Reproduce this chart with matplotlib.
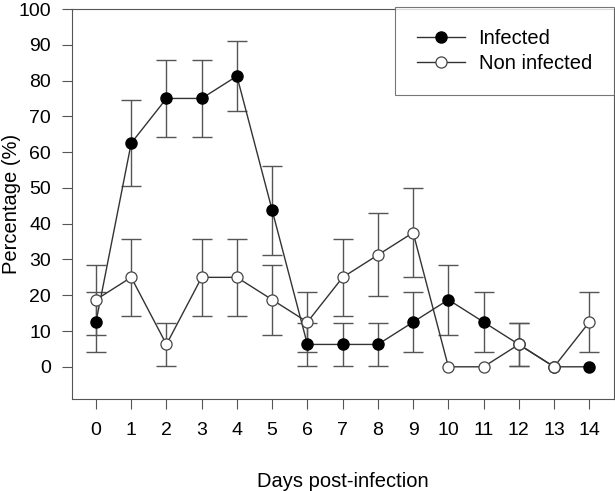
import numpy as np
import matplotlib.pyplot as plt

plt.rcParams['font.family'] = ['Liberation Sans', 'DejaVu Sans']

days = list(range(15))
infected = [12.5, 62.5, 75, 75, 81.25, 43.75, 6.25, 6.25, 6.25, 12.5, 18.75, 12.5, 6.25, 0, 0]
infected_err = [8.3, 12.1, 10.8, 10.8, 9.8, 12.4, 6.1, 6.1, 6.1, 8.3, 9.8, 8.3, 6.1, 0, 0]
non_infected = [18.75, 25, 6.25, 25, 25, 18.75, 12.5, 25, 31.25, 37.5, 0, 0, 6.25, 0, 12.5]
non_infected_err = [9.8, 10.8, 6.1, 10.8, 10.8, 9.8, 8.3, 10.8, 11.6, 12.5, 0, 0, 6.1, 0, 8.3]

fig = plt.figure(figsize=(6.15, 4.91), dpi=100)
ax = fig.add_axes([72 / 615, 1 - 399 / 491, 542 / 615, 390 / 491])

edge = '#555555'
line_col = '#333333'

# error bars only where there is an error (zero-width bars show no caps in the original)
for y, e in [(infected, infected_err), (non_infected, non_infected_err)]:
    d = np.array(days)
    y = np.array(y)
    e = np.array(e)
    m = e > 0
    ax.errorbar(d[m], y[m], yerr=e[m], fmt='none', ecolor=edge,
                elinewidth=1, capsize=7, capthick=1, zorder=1)

ax.plot(days, infected, '-o', color=line_col, lw=1, markersize=8,
        markerfacecolor='black', markeredgecolor='black', label='Infected', zorder=3)
ax.plot(days, non_infected, '-o', color=line_col, lw=1, markersize=8,
        markerfacecolor='white', markeredgecolor='#444444', markeredgewidth=0.9,
        label='Non infected', zorder=4)

ax.set_xlim(-0.68, 14.7)
ax.set_ylim(-9, 100)
ax.set_xticks(days)
ax.set_yticks(range(0, 101, 10))
ax.tick_params(direction='out', length=7, width=0.8, color=edge, labelsize=14)
ax.tick_params(axis='x', pad=9.5)
ax.tick_params(axis='y', pad=8)

for s in ax.spines.values():
    s.set_color(edge)
    s.set_linewidth(0.8)

ax.set_xlabel('Days post-infection', fontsize=14.5, labelpad=24)
ax.set_ylabel('Percentage (%)', fontsize=14.5)
ax.yaxis.set_label_coords(-0.094, 0.5)

leg = ax.legend(loc='upper right', bbox_to_anchor=(1.0, 1.005), borderaxespad=0,
                fontsize=14.5, frameon=True, fancybox=False, handlelength=2.35,
                handletextpad=0.7, borderpad=1.1, labelspacing=0.3)
leg.get_frame().set_edgecolor(edge)
leg.get_frame().set_linewidth(0.8)

fig.savefig('out.png', dpi=100)
